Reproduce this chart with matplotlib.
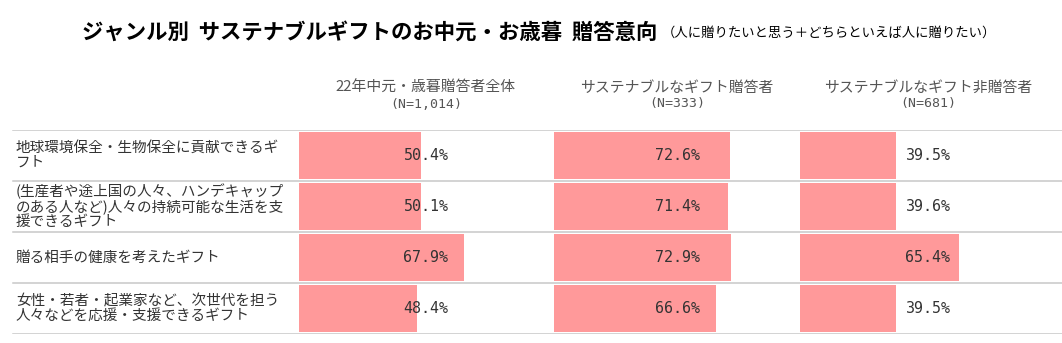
import matplotlib
matplotlib.use('Agg')
import matplotlib.pyplot as plt
import matplotlib.transforms as mtransforms

plt.rcParams['font.family'] = ['Noto Sans CJK JP', 'DejaVu Sans']

# data
genres = [
    '地球環境保全・生物保全に貢献できるギ\nフト',
    '(生産者や途上国の人々、ハンデキャップ\nのある人など)人々の持続可能な生活を支\n援できるギフト',
    '贈る相手の健康を考えたギフト',
    '女性・若者・起業家など、次世代を担う\n人々などを応援・支援できるギフト',
]
groups = ['22年中元・歳暮贈答者全体', 'サステナブルなギフト贈答者', 'サステナブルなギフト非贈答者']
group_n = ['(N=1,014)', '(N=333)', '(N=681)']
share_all = [50.4, 50.1, 67.9, 48.4]
share_givers = [72.6, 71.4, 72.9, 66.6]
share_nongivers = [39.5, 39.6, 65.4, 39.5]
series = [share_all, share_givers, share_nongivers]

title = 'ジャンル別  サステナブルギフトのお中元・お歳暮  贈答意向'
subtitle = '（人に贈りたいと思う＋どちらといえば人に贈りたい）'

# layout (pixels)
W, H = 1062, 343
rows_top, rows_bottom = 130, 334
panel_left = [299, 554, 800]
panel_width = 243
col_center = [426, 677, 928]
bar_color = '#ff999a'
text_color = '#333333'
line_color = '#c8c8c8'

fig = plt.figure(figsize=(W / 100, H / 100), dpi=100)
fig.patch.set_facecolor('white')

n = len(genres)
ax_bottom = 1 - rows_bottom / H
ax_height = (rows_bottom - rows_top) / H

# frame axes: separators and row labels, x in pixels
frame = fig.add_axes([0, ax_bottom, 1, ax_height])
frame.set_xlim(0, W)
frame.set_ylim(n - 0.5, -0.5)
frame.axis('off')
for i in range(n + 1):
    frame.plot([13, W], [i - 0.5, i - 0.5], color=line_color, lw=1.1, zorder=1)
for i, g in enumerate(genres):
    frame.text(16, i, g, ha='left', va='center', fontsize=10.5,
               color=text_color, linespacing=1.05)

# bar panels with value labels centred in each column
for j, vals in enumerate(series):
    ax = fig.add_axes([panel_left[j] / W, ax_bottom, panel_width / W, ax_height])
    ax.set_xlim(0, 100)
    ax.set_ylim(n - 0.5, -0.5)
    ax.axis('off')
    ax.barh(range(n), vals, height=0.92, left=0, color=bar_color, zorder=2)
    trans = mtransforms.blended_transform_factory(ax.transAxes, ax.transData)
    xc = (col_center[j] - panel_left[j]) / panel_width
    for i, v in enumerate(vals):
        ax.text(xc, i, f'{v:.1f}%', transform=trans, ha='center', va='center',
                fontsize=10.8, color=text_color, family='DejaVu Sans Mono',
                zorder=5, clip_on=False)

# column headers
for j in range(3):
    fig.text(col_center[j] / W, 1 - 88 / H, groups[j], ha='center', va='center',
             fontsize=10.7, color='#555555')
    fig.text(col_center[j] / W, 1 - 104 / H, group_n[j], ha='center', va='center',
             fontsize=9.5, color='#555555', family='DejaVu Sans Mono')

# title + subtitle
t = fig.text(82 / W, 1 - 32 / H, title, ha='left', va='center', fontsize=15.4,
             fontweight='bold', color='black')
fig.canvas.draw()
bb = t.get_window_extent(fig.canvas.get_renderer())
fig.text(bb.x1 / W + 4 / W, 1 - 33 / H, subtitle, ha='left', va='center',
         fontsize=9.6, color='black')

fig.savefig('out.png', dpi=100)
